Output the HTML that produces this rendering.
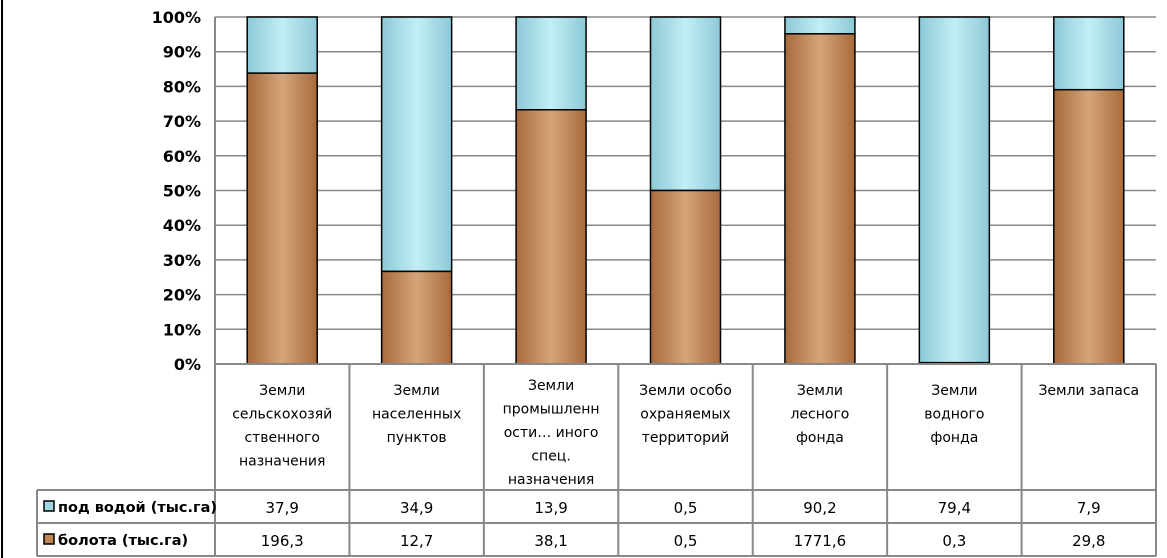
<!DOCTYPE html>
<html><head><meta charset="utf-8"><style>
body{margin:0;background:#fff;width:1167px;height:558px;overflow:hidden}
svg{display:block;font-family:"DejaVu Sans","Liberation Sans",sans-serif}
</style></head><body>
<svg id="c" width="1167" height="558">
<defs>
<linearGradient id="cork" x1="0" x2="1" y1="0" y2="0"><stop offset="0" stop-color="#a86a3c"/><stop offset="0.5" stop-color="#d4a57a"/><stop offset="1" stop-color="#a86a3c"/></linearGradient>
<linearGradient id="water" x1="0" x2="1" y1="0" y2="0"><stop offset="0" stop-color="#8cc9d6"/><stop offset="0.5" stop-color="#c3eef5"/><stop offset="1" stop-color="#8cc9d6"/></linearGradient>
</defs>
<line x1="2" y1="0" x2="2" y2="558" stroke="#000" stroke-width="2"/>
</svg>
<script>
const categories=[["Земли","сельскохозяй","ственного","назначения"],["Земли","населенных","пунктов"],["Земли","промышленн","ости… иного","спец.","назначения"],["Земли особо","охраняемых","территорий"],["Земли","лесного","фонда"],["Земли","водного","фонда"],["Земли запаса"]];
const waterVals=[37.9,34.9,13.9,0.5,90.2,79.4,7.9];
const bogVals=[196.3,12.7,38.1,0.5,1771.6,0.3,29.8];
const tickLabels=["0%","10%","20%","30%","40%","50%","60%","70%","80%","90%","100%"];
const seriesNames=["под водой (тыс.га)","болота (тыс.га)"];
const svg=document.getElementById('c');const NS='http://www.w3.org/2000/svg';
function mk(t,a,txt){const e=document.createElementNS(NS,t);for(const k in a)e.setAttribute(k,a[k]);if(txt!==undefined)e.textContent=txt;svg.appendChild(e);return e;}
const X0=215,X1=1156,Y0=364,Y1=17,n=categories.length,cw=(X1-X0)/n;
const y=p=>Y0-(Y0-Y1)*p/100;const xc=i=>X0+cw*(i+0.5);
tickLabels.forEach((t,i)=>{const p=i*10;
 if(i>0){const l=mk('line',{x1:X0,x2:X1,y1:y(p),y2:y(p),stroke:'#888','stroke-width':1.5});
 
 }
 const tx=mk('text',{x:201,y:y(p)+6,'text-anchor':'end','font-size':16,'font-weight':'bold',fill:'#000'},t);
 
 });
categories.forEach((c,i)=>{const tot=waterVals[i]+bogVals[i];const bp=bogVals[i]/tot*100;const bw=70,bx=xc(i)-bw/2;
 const w=mk('rect',{x:bx,y:Y1,width:bw,height:y(bp)-Y1,fill:'url(#water)',stroke:'#000','stroke-width':1.5});
 
 
 const b=mk('rect',{x:bx,y:y(bp),width:bw,height:Y0-y(bp),fill:'url(#cork)',stroke:'#000','stroke-width':1.5});
 
 
 const y0=395-Math.max(0,c.length-4)*5;
 c.forEach((ln,j)=>{const t=mk('text',{x:xc(i),y:y0+j*23.5,'text-anchor':'middle','font-size':14,fill:'#000'},ln);
 
 });
 [waterVals[i],bogVals[i]].forEach((v,r)=>{const t=mk('text',{x:xc(i),y:513+r*33,'text-anchor':'middle','font-size':15,fill:'#000'},String(v).replace('.',','));
 
 });
});
const g='#888';
for(let i=0;i<=n;i++){const x=X0+cw*i;const l=mk('line',{x1:x,x2:x,y1:i==0?Y1:Y0,y2:556,stroke:g,'stroke-width':2});
 
 }
[[X0,Y0],[37,490],[37,523],[37,556]].forEach(([x0,yy])=>{const l=mk('line',{x1:x0,x2:X1,y1:yy,y2:yy,stroke:g,'stroke-width':2});
 
 });
const lv=mk('line',{x1:37,x2:37,y1:490,y2:556,stroke:g,'stroke-width':2});


seriesNames.forEach((s,r)=>{const yy=506+r*33;
 const k=mk('rect',{x:44,y:yy-5,width:10,height:10,fill:r==0?'#9dd8e4':'#c28554',stroke:'#000','stroke-width':1.5});
 
 
 const t=mk('text',{x:58,y:yy+6,'font-size':14.5,'font-weight':'bold',fill:'#000'},s);
 
 });
</script>
</body></html>
